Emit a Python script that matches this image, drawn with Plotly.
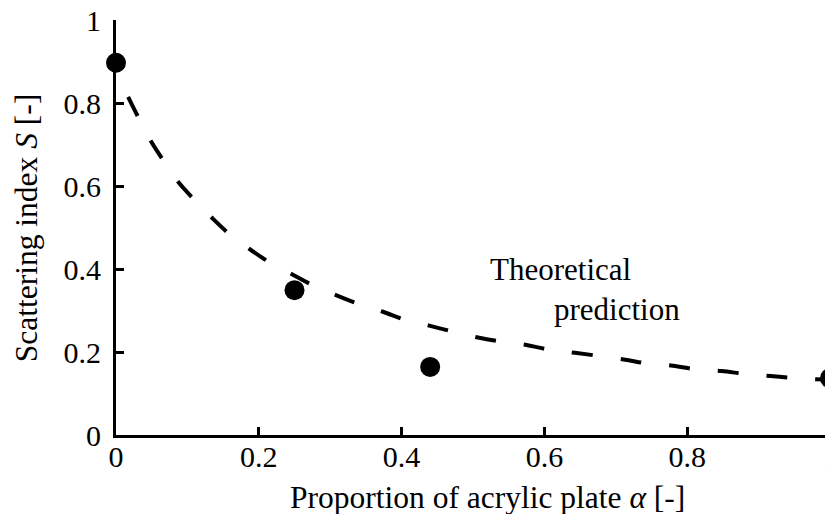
import plotly.graph_objects as go

# Measured data points
alpha_meas = [0.0, 0.25, 0.44, 1.0]
S_meas = [0.897, 0.349, 0.164, 0.137]

# Theoretical prediction curve
alpha_theory = [0.017, 0.032, 0.049, 0.067, 0.087, 0.109, 0.134, 0.159, 0.188, 0.216,
                0.247, 0.272, 0.308, 0.341, 0.374, 0.406, 0.44, 0.472, 0.507, 0.54,
                0.575, 0.608, 0.643, 0.711, 0.745, 0.78, 0.813, 0.848, 0.882, 0.917,
                0.951, 1.0]
S_theory = [0.815, 0.763, 0.708, 0.66, 0.61, 0.568, 0.524, 0.484, 0.447, 0.415,
            0.387, 0.364, 0.337, 0.315, 0.297, 0.277, 0.263, 0.249, 0.235, 0.225,
            0.217, 0.205, 0.198, 0.182, 0.172, 0.167, 0.158, 0.154, 0.147, 0.142,
            0.137, 0.133]

x_ticks = [0, 0.2, 0.4, 0.6, 0.8, 1]
x_tick_text = ["0", "0.2", "0.4", "0.6", "0.8", "1"]
y_ticks = [0, 0.2, 0.4, 0.6, 0.8, 1]
y_tick_text = ["0", "0.2", "0.4", "0.6", "0.8", "1"]

x_title = "Proportion of acrylic plate <i>α</i> [-]"
y_title = "Scattering index <i>S</i> [-]"
label_lines = ["Theoretical", "prediction"]

FONT = "Liberation Serif, Times New Roman, serif"

fig = go.Figure()
fig.add_trace(go.Scatter(
    x=alpha_theory, y=S_theory, mode="lines", line_shape="spline",
    line=dict(color="black", width=4, dash="21px,28px"),
    showlegend=False, cliponaxis=False))
fig.add_trace(go.Scatter(
    x=alpha_meas, y=S_meas, mode="markers",
    marker=dict(color="black", size=20),
    showlegend=False, cliponaxis=False))

fig.add_annotation(x=0.521, y=0.398, xref="x", yref="y", text=label_lines[0],
                   showarrow=False, xanchor="left", yanchor="middle",
                   font=dict(family=FONT, size=31, color="black"))
fig.add_annotation(x=0.611, y=0.303, xref="x", yref="y", text=label_lines[1],
                   showarrow=False, xanchor="left", yanchor="middle",
                   font=dict(family=FONT, size=31, color="black"))

# Axis titles placed as paper annotations
fig.add_annotation(x=0.521, y=-0.151, xref="paper", yref="paper", text=x_title,
                   showarrow=False, xanchor="center", yanchor="middle",
                   borderpad=0,
                   font=dict(family=FONT, size=31.5, color="black"))
fig.add_annotation(x=-0.125, y=0.5, xref="paper", yref="paper", text=y_title,
                   showarrow=False, xanchor="center", yanchor="middle", textangle=-90,
                   borderpad=0,
                   font=dict(family=FONT, size=31.5, color="black"))

fig.update_layout(
    width=825, height=506,
    margin=dict(l=108, r=3, t=12, b=79),
    paper_bgcolor="white", plot_bgcolor="white",
    font=dict(family=FONT, size=30, color="black"),
    xaxis=dict(range=[0, 1], tickvals=x_ticks, ticktext=x_tick_text,
               showgrid=False, zeroline=False, showline=True, linecolor="black",
               linewidth=3, ticks="inside", ticklen=8, tickwidth=2.5,
               tickcolor="black", automargin=False, ticklabeloverflow="allow",
               ticklabelstandoff=-7),
    yaxis=dict(range=[0, 1], tickvals=y_ticks, ticktext=y_tick_text,
               showgrid=False, zeroline=False, showline=True, linecolor="black",
               linewidth=3, ticks="inside", ticklen=8, tickwidth=2.5,
               tickcolor="black", ticklabelstandoff=6, automargin=False,
               ticklabeloverflow="allow"),
)

fig.write_html("out.html")
